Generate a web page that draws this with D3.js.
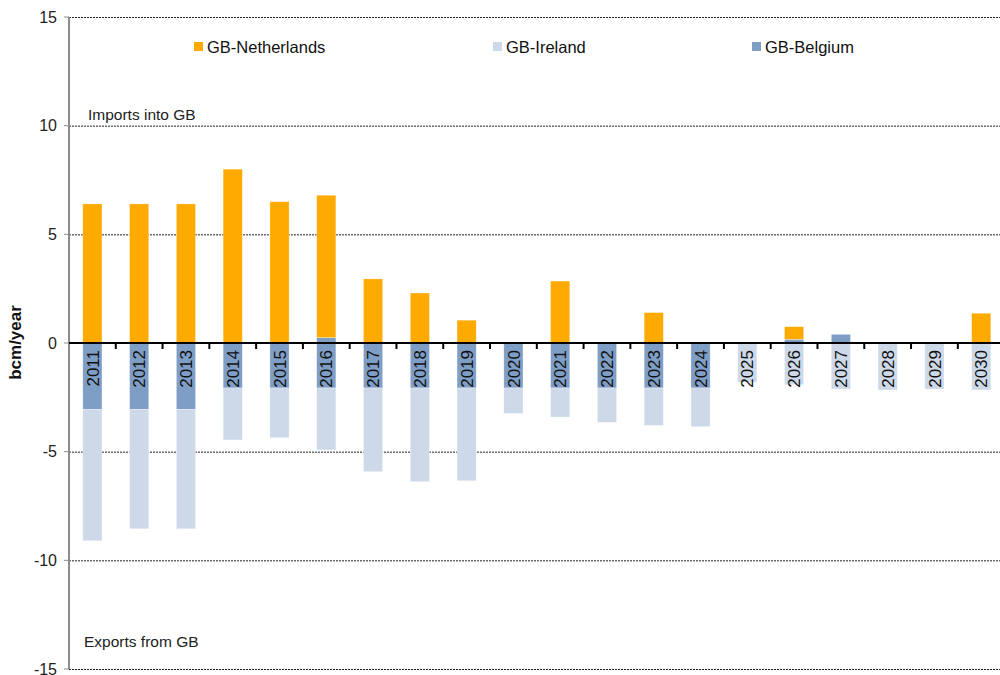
<!DOCTYPE html>
<html>
<head>
<meta charset="utf-8">
<script src="https://cdn.jsdelivr.net/npm/d3@7"></script>
<style>
  body { margin: 0; background: #fff; }
  svg { font-family: "Liberation Sans", Arial, sans-serif; }
</style>
</head>
<body>
<svg id="chart" width="1000" height="675"></svg>
<script>
// years on the category axis
var years = ["2011", "2012", "2013", "2014", "2015", "2016", "2017", "2018", "2019", "2020",
             "2021", "2022", "2023", "2024", "2025", "2026", "2027", "2028", "2029", "2030"];

// flows in bcm/year, imports positive, exports negative
var netherlands = [6.4, 6.4, 6.4, 8.0, 6.5, 6.55, 2.95, 2.3, 1.05, 0,
                   2.85, 0, 1.4, 0, 0, 0.58, 0, 0, 0, 1.37];
var belgiumImport = [0, 0, 0, 0, 0, 0.25, 0, 0, 0, 0,
                     0, 0, 0, 0, 0, 0.17, 0.4, 0, 0, 0];
var belgiumExport = [-3.05, -3.05, -3.05, -2.07, -2.07, -2.07, -2.07, -2.07, -2.07, -2.07,
                     -2.07, -2.07, -2.07, -2.07, 0, 0, 0, 0, 0, 0];
var ireland = [-6.05, -5.5, -5.5, -2.39, -2.29, -2.85, -3.85, -4.31, -4.27, -1.17,
               -1.34, -1.58, -1.72, -1.78, -1.81, -1.92, -2.12, -2.16, -2.12, -2.16];

var yTicks = [-15, -10, -5, 0, 5, 10, 15];
var legendNames = ["GB-Netherlands", "GB-Ireland", "GB-Belgium"];

var colors = {
    "GB-Netherlands": "#ffaa00",
    "GB-Ireland": "#cdd9e9",
    "GB-Belgium": "#7f9ec6"
};

var svg = d3.select("#chart");
var plotL = 69, plotR = 1004.6, plotT = 17, plotB = 669;

var x = d3.scaleBand().domain(years).range([plotL, plotR])
    .paddingInner(0.59).paddingOuter(0.295);
var y = d3.scaleLinear().domain([-15, 15]).range([plotB, plotT]);

// build table for the stack
var table = years.map(function(yr, i) {
    return {
        year: yr,
        bImp: belgiumImport[i],
        nl: netherlands[i],
        bExp: belgiumExport[i],
        ie: ireland[i]
    };
});
var keyColor = {
    bImp: colors["GB-Belgium"],
    nl: colors["GB-Netherlands"],
    bExp: colors["GB-Belgium"],
    ie: colors["GB-Ireland"]
};
var series = d3.stack().keys(["bImp", "nl", "bExp", "ie"])
    .offset(d3.stackOffsetDiverging)(table);

// gridlines (dotted)
svg.append("g")
    .selectAll("line")
    .data(yTicks.filter(function(d) { return d !== 0; }))
    .enter().append("line")
    .attr("x1", plotL).attr("x2", 1000)
    .attr("y1", function(d) { return y(d) + 0.5; })
    .attr("y2", function(d) { return y(d) + 0.5; })
    .attr("stroke", "#222")
    .attr("stroke-width", 1)
    .attr("stroke-dasharray", "2,1");

// bars
svg.append("g")
    .selectAll("g")
    .data(series)
    .enter().append("g")
    .attr("fill", function(d) { return keyColor[d.key]; })
    .selectAll("rect")
    .data(function(d) { return d; })
    .enter().append("rect")
    .attr("x", function(d) { return x(d.data.year); })
    .attr("width", x.bandwidth())
    .attr("y", function(d) { return y(Math.max(d[0], d[1])); })
    .attr("height", function(d) { return Math.abs(y(d[0]) - y(d[1])); })
    .attr("stroke", "#fff")
    .attr("stroke-opacity", 0.5)
    .attr("stroke-width", 0.6);

// y axis line (grey)
svg.append("line")
    .attr("x1", plotL).attr("x2", plotL)
    .attr("y1", plotT).attr("y2", plotB)
    .attr("stroke", "#8c8c8c").attr("stroke-width", 2);

// y ticks + labels
var yt = svg.append("g");
yt.selectAll("line")
    .data(yTicks)
    .enter().append("line")
    .attr("x1", plotL - 5).attr("x2", plotL)
    .attr("y1", function(d) { return y(d); })
    .attr("y2", function(d) { return y(d); })
    .attr("stroke", "#8c8c8c").attr("stroke-width", 1);
yt.selectAll("text")
    .data(yTicks)
    .enter().append("text")
    .attr("x", 57)
    .attr("y", function(d) { return y(d); })
    .attr("dy", "0.35em")
    .attr("text-anchor", "end")
    .attr("font-size", 16)
    .attr("fill", "#222")
    .text(function(d) { return d; });

// zero axis with category ticks
svg.append("line")
    .attr("x1", plotL).attr("x2", 1000)
    .attr("y1", y(0)).attr("y2", y(0))
    .attr("stroke", "#000").attr("stroke-width", 2);
svg.append("g")
    .selectAll("line")
    .data(years.slice(0, -1))
    .enter().append("line")
    .attr("x1", function(d) { return x(d) + x.bandwidth() / 2 + x.step() / 2; })
    .attr("x2", function(d) { return x(d) + x.bandwidth() / 2 + x.step() / 2; })
    .attr("y1", y(0)).attr("y2", y(0) + 6)
    .attr("stroke", "#000").attr("stroke-width", 2);

// year labels, rotated inside the bars
svg.append("g")
    .selectAll("text")
    .data(years)
    .enter().append("text")
    .attr("transform", function(d) {
        return "translate(" + (x(d) + x.bandwidth() / 2) + "," + (y(0) + 7) + ") rotate(-90)";
    })
    .attr("text-anchor", "end")
    .attr("dy", "0.36em")
    .attr("font-size", 17)
    .attr("fill", "#111")
    .text(function(d) { return d; });

// y axis title
svg.append("text")
    .attr("transform", "translate(21," + (y(0) - 0.5) + ") rotate(-90)")
    .attr("text-anchor", "middle")
    .attr("font-size", 17)
    .attr("font-weight", "bold")
    .attr("fill", "#111")
    .text("bcm/year");

// annotations
svg.append("text")
    .attr("x", 88).attr("y", 120)
    .attr("font-size", 15.5).attr("fill", "#222")
    .text("Imports into GB");
svg.append("text")
    .attr("x", 84).attr("y", 647)
    .attr("font-size", 15.5).attr("fill", "#222")
    .text("Exports from GB");

// legend
var legendX = [194, 493, 752];
var lg = svg.append("g")
    .selectAll("g")
    .data(legendNames)
    .enter().append("g")
    .attr("transform", function(d, i) { return "translate(" + legendX[i] + ",47)"; });
lg.append("rect")
    .attr("x", 0).attr("y", -5)
    .attr("width", 9).attr("height", 9)
    .attr("fill", function(d) { return colors[d]; });
lg.append("text")
    .attr("x", 13).attr("y", 0)
    .attr("dy", "0.35em")
    .attr("font-size", 16.5)
    .attr("fill", "#111")
    .text(function(d) { return d; });
</script>
</body>
</html>
